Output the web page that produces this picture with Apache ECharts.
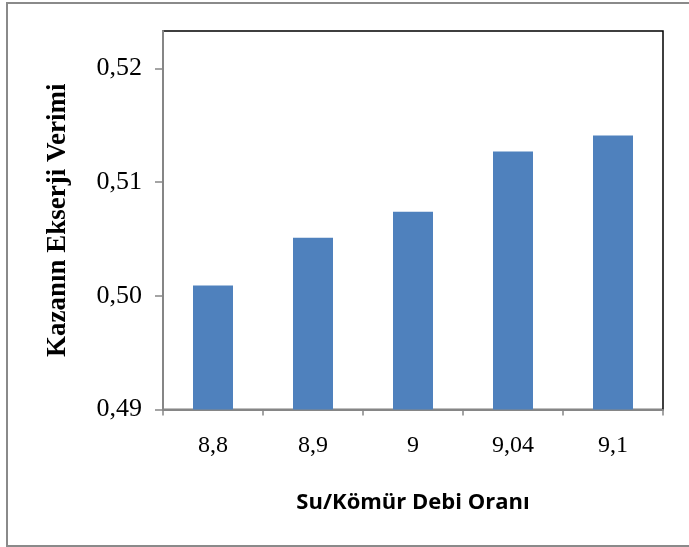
<!DOCTYPE html>
<html>
<head>
<meta charset="utf-8">
<script src="https://cdn.jsdelivr.net/npm/echarts@6/dist/echarts.min.js"></script>
<style>
  html, body { margin: 0; padding: 0; background: #fff; }
  #chart { width: 689px; height: 547px; }
</style>
</head>
<body>
<div id="chart"></div>
<script>
// Water/coal flow ratio vs. boiler exergy efficiency
const categories = ['8,8', '8,9', '9', '9,04', '9,1'];
const efficiency = [0.5009, 0.5051, 0.5074, 0.5127, 0.5141];
const yMin = 0.49;
const yMax = 0.5233;
const yStep = 0.01;

const chart = echarts.init(document.getElementById('chart'));
const serif = '"Liberation Serif", "Times New Roman", serif';

chart.setOption({
  animation: false,
  backgroundColor: '#fff',
  graphic: [{
    type: 'rect',
    shape: { x: 7, y: 3, width: 760, height: 543 },
    style: { fill: 'none', stroke: '#8a8a8a', lineWidth: 2 },
    silent: true
  }],
  grid: {
    left: 163, right: 26, top: 31, bottom: 137.5,
    show: true, borderColor: '#000', borderWidth: 1.5,
    containLabel: false
  },
  xAxis: {
    type: 'category',
    data: categories,
    name: 'Su/Kömür Debi Oranı',
    nameLocation: 'middle',
    nameGap: 82,
    nameTextStyle: { fontFamily: '"Open Sans", "Noto Sans", sans-serif', fontWeight: 'bold', fontSize: 22, color: '#000' },
    axisLine: { lineStyle: { color: '#868686', width: 2 } },
    axisTick: { show: true, length: 6, lineStyle: { color: '#868686', width: 1.5 } },
    axisLabel: { fontFamily: serif, fontSize: 24, color: '#000', margin: 24 }
  },
  yAxis: {
    type: 'value',
    min: yMin, max: yMax, interval: yStep,
    name: 'Kazanın Ekserji Verimi',
    nameLocation: 'middle',
    nameRotate: 90,
    nameGap: 91,
    nameTextStyle: { fontFamily: serif, fontWeight: 'bold', fontSize: 27, color: '#000' },
    splitLine: { show: false },
    axisLine: { show: true, lineStyle: { color: '#868686', width: 2 } },
    axisTick: { show: true, length: 8, lineStyle: { color: '#868686', width: 1.5 } },
    axisLabel: {
      fontFamily: serif, fontSize: 26, color: '#000', margin: 21,
      showMaxLabel: false,
      formatter: v => v.toFixed(2).replace('.', ',')
    }
  },
  series: [{
    type: 'bar',
    data: efficiency,
    barWidth: '40%',
    itemStyle: { color: '#4F81BD' }
  }]
});
</script>
</body>
</html>
